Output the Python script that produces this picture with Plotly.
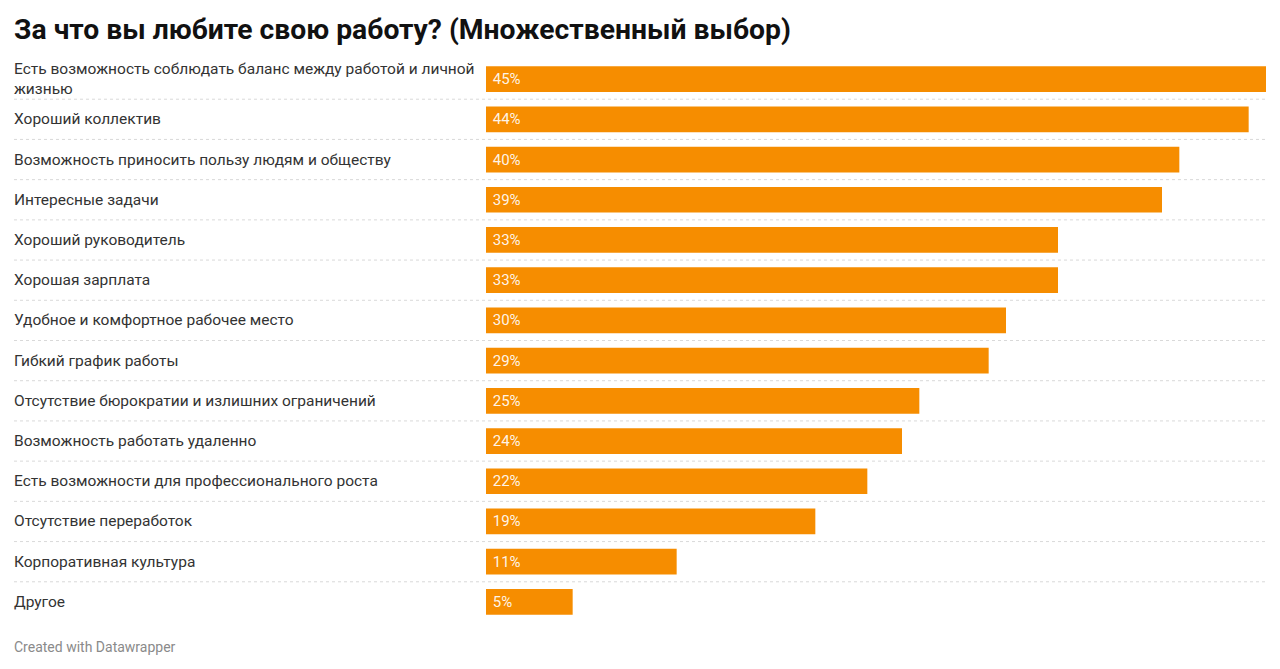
import plotly.graph_objects as go

# ---------------------------------------------------------------
# DATA
# ---------------------------------------------------------------
categories = [
    "Есть возможность соблюдать баланс между работой и личной<br>жизнью",
    "Хороший коллектив",
    "Возможность приносить пользу людям и обществу",
    "Интересные задачи",
    "Хороший руководитель",
    "Хорошая зарплата",
    "Удобное и комфортное рабочее место",
    "Гибкий график работы",
    "Отсутствие бюрократии и излишних ограничений",
    "Возможность работать удаленно",
    "Есть возможности для профессионального роста",
    "Отсутствие переработок",
    "Корпоративная культура",
    "Другое",
]
values = [45, 44, 40, 39, 33, 33, 30, 29, 25, 24, 22, 19, 11, 5]
value_labels = [f"\u00a0{v}%" for v in values]

title_text = "За что вы любите свою работу? (Множественный выбор)"
footer_text = "Created with Datawrapper"

ORANGE = "#F68D00"
FONT = "Roboto"

# page body has an 8px margin, so everything is laid out 8px up/left
W, H = 1280, 669
OFF = 8

# ---------------------------------------------------------------
# FIGURE
# ---------------------------------------------------------------
fig = go.Figure()

fig.add_trace(go.Bar(
    x=values,
    y=list(range(len(categories))),
    orientation="h",
    marker=dict(color=ORANGE, line=dict(width=0)),
    text=value_labels,
    textposition="inside",
    insidetextanchor="start",
    textfont=dict(family=FONT, size=15, color="rgba(255,255,255,0.92)"),
    cliponaxis=False,
    hoverinfo="skip",
))

# row labels, left aligned at the left edge
for i, cat in enumerate(categories):
    fig.add_annotation(
        x=0, xref="paper", xanchor="left", xshift=-2,
        y=i, yref="y", yanchor="middle",
        text=cat, showarrow=False, align="left",
        font=dict(family=FONT, size=15.5, color="#333333"),
    )

# dotted separators between rows
for i in range(len(categories) - 1):
    fig.add_shape(
        type="line", xref="paper", x0=0, x1=1,
        yref="y", y0=i + 0.5, y1=i + 0.5,
        line=dict(color="#d9d9d9", width=1, dash="dot"),
        layer="below",
    )

fig.add_annotation(
    x=0, xref="paper", xanchor="left", xshift=-2,
    y=-0.044, yref="paper", yanchor="middle",
    text=footer_text, showarrow=False,
    font=dict(family=FONT, size=14, color="#8a8a8a"),
)

fig.update_layout(
    width=W, height=H,
    paper_bgcolor="white",
    plot_bgcolor="white",
    margin=dict(l=14 - OFF, r=W - 1266 + OFF, t=59 - OFF, b=H - 622 + OFF),
    bargap=0.36,
    showlegend=False,
    title=dict(
        text=f"<b>{title_text}</b>",
        x=(14 - OFF) / W, xanchor="left",
        y=1 - (29 - OFF) / H, yanchor="middle",
        font=dict(family=FONT, size=28.3, color="#111111"),
    ),
    xaxis=dict(
        domain=[472 / 1252, 1],
        range=[0, 45],
        visible=False,
        fixedrange=True,
    ),
    yaxis=dict(
        range=[len(categories) - 0.5, -0.5],
        visible=False,
        fixedrange=True,
    ),
)

fig.write_html("out.html")
